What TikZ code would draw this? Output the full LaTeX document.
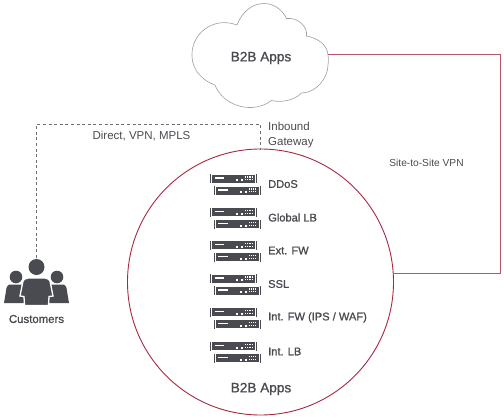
\documentclass[tikz,border=0pt]{standalone}
\usepackage{fontspec}
\setmainfont{Liberation Sans}
\newfontfamily\medfont[FakeBold=1.2]{Liberation Sans}
\definecolor{ink}{HTML}{4A4B50}
\definecolor{wine}{HTML}{A82A40}
\definecolor{linkred}{HTML}{B5566A}
\tikzset{
  lbl/.style={text=ink,inner sep=0pt,anchor=west},
  applabel/.style={text=ink,font=\medfont\fontsize{13.6}{15}\selectfont,inner sep=0pt},
  thin label/.style={text=ink,inner sep=0pt},
  devlabel/.style={text=ink,font=\medfont\fontsize{11.1}{12}\selectfont,inner sep=0pt,anchor=west},
  unit/.pic={
    \fill[ink] (0,0) rectangle (1.2,9);
    \fill[ink] (46,0) rectangle (47.2,9);
    \fill[ink] (2.2,0.6) rectangle (45,8.6);
    \fill[white] (4.5,3) rectangle (14,4.6);
    \fill[white] (26,5) rectangle (28,7);
    \fill[white] (31,5) rectangle (33,7);
    \foreach \q in {35,37.2,39.4,41.6}{\fill[white] (\q,2.4) rectangle +(1.2,1.4);\fill[white] (\q,5) rectangle +(1.2,1.4);}
  },
  serverstack/.pic={
    \pic at (-25,-10.5) {unit};
    \pic at (-21.5,1.5) {unit};
  }
}
\begin{document}
\begin{tikzpicture}[x=1pt,y=-1pt]
\useasboundingbox (0,0) rectangle (504,418);
% cloud
\draw[draw=gray!75,line width=0.6pt,fill=white]
 (328,55) .. controls (327,44) and (317,38) .. (306.5,36)
 .. controls (308,27) and (298,17) .. (286.5,18.5)
 .. controls (282,9) and (273,3.5) .. (264,3.5)
 .. controls (252,3.5) and (242,12) .. (237,25)
 .. controls (213,16) and (191,34) .. (192,56)
 .. controls (192,70) and (203,81) .. (215,85)
 .. controls (221,100) and (236,108) .. (252,107.5)
 .. controls (259,107) and (266,105) .. (271.5,100.5)
 .. controls (282,103) and (295,100) .. (301.5,93)
 .. controls (316,93) and (328,78) .. (328,65)
 .. controls (328.5,62) and (328.5,58) .. (328,55) -- cycle;
\node[applabel] (cloudlabel) at (261,58) {B2B Apps};
\coordinate (cloudR) at (328,54.5);
\coordinate (farR) at (500,54.5);
% circle
\node[circle,draw=wine,line width=0.9pt,minimum size=266pt,inner sep=0pt] (ring) at (260.5,282) {};
\coordinate (ringR) at (393.3,273.5);
\coordinate (ringT) at (260.5,149.5);
% red link
\draw[linkred,line width=1pt] (cloudR) -- (farR) |- (ringR);
% dashed link
\coordinate (cust) at (36.5,258);
\coordinate (bend) at (36.5,124.5);
\draw[ink!80,line width=0.8pt,dash pattern=on 3pt off 2.6pt] (cust) -- (bend) -| (ringT);
% texts
\node[thin label,font=\fontsize{11.5}{13}\selectfont] (direct) at (141.5,136) {Direct, VPN, MPLS};
\node[lbl,align=left,text width=60pt,font=\fontsize{11.5}{15}\selectfont] (gateway) at (268,135.5) {Inbound\\Gateway};
\node[thin label,font=\fontsize{10.2}{12}\selectfont] (s2s) at (426.5,163) {Site-to-Site VPN};
\node[text=ink,font=\medfont\fontsize{11.4}{13}\selectfont,inner sep=0pt] (custlabel) at (36.5,319) {Customers};
\node[applabel] (ringlabel) at (261,389) {B2B Apps};
% stacks
\foreach \yy/\txt/\nm in {184.5/DDoS/a,218/Global LB/b,251/Ext. FW/c,284.5/SSL/d,318/{Int. FW (IPS / WAF)}/e,352/Int. LB/f}{
  \pic at (235,\yy) {serverstack};
  \node[devlabel] (dev\nm) at (268,\yy-0.5) {\txt};
}
% customers icon
\fill[ink] (16,277) circle (6.3);
\fill[ink] (57,277) circle (6.3);
\fill[ink] (9,284.5) -- (24,284.5) -- (27,303) -- (4,303) -- (6,291) .. controls (6.5,287) and (7,285.5) .. (9,284.5) -- cycle;
\fill[ink] (49,284.5) -- (64,284.5) .. controls (66,285.5) and (66.5,287) .. (67,291) -- (69,303) -- (46,303) -- cycle;
\draw[white,line width=1.3pt,fill=ink] (28,278) -- (45,278) .. controls (48,278.5) and (49.5,279.5) .. (50,281) -- (53,296) -- (49,296.5) -- (48.5,305.5) -- (24.5,305.5) -- (24,296.5) -- (20,296) -- (23,281) .. controls (23.5,279.5) and (25,278.5) .. (28,278) -- cycle;
\fill[ink] (36.5,267) circle (8);
\end{tikzpicture}
\end{document}
